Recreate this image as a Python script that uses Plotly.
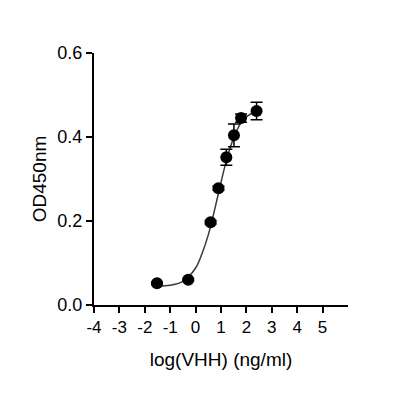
import plotly.graph_objects as go

# Measured points
log_conc = [-1.52, -0.29, 0.59, 0.90, 1.21, 1.51, 1.79, 2.40]
od450 = [0.052, 0.060, 0.197, 0.278, 0.352, 0.404, 0.445, 0.462]
od_err = [0.003, 0.003, 0.004, 0.005, 0.019, 0.027, 0.010, 0.021]

# Fitted curve
fit_x = [-1.5, -1.0, -0.5, 0.0, 0.25, 0.5, 0.75, 1.0, 1.25, 1.5, 1.75, 2.0, 2.4]
fit_y = [0.045, 0.047, 0.056, 0.088, 0.122, 0.167, 0.227, 0.292, 0.352, 0.398, 0.430, 0.448, 0.462]

x_ticks = [-4, -3, -2, -1, 0, 1, 2, 3, 4, 5]
x_tick_labels = ["-4", "-3", "-2", "-1", "0", "1", "2", "3", "4", "5"]
y_ticks = [0.0, 0.2, 0.4, 0.6]
y_tick_labels = ["0.0", "0.2", "0.4", "0.6"]

font_family = "Arial, Liberation Sans, sans-serif"

fig = go.Figure()
fig.add_trace(go.Scatter(
    x=fit_x, y=fit_y, mode="lines", line=dict(color="#3a3a3a", width=1.5, shape="spline"),
    showlegend=False, hoverinfo="skip"))
fig.add_trace(go.Scatter(
    x=log_conc, y=od450, mode="markers",
    marker=dict(color="black", size=12),
    error_y=dict(type="data", array=od_err, color="black", thickness=1.5, width=6),
    showlegend=False))

fig.update_layout(
    width=400, height=400,
    margin=dict(l=86, r=60, t=45, b=103),
    paper_bgcolor="white", plot_bgcolor="white",
    font=dict(family=font_family, color="black", size=17),
    xaxis=dict(range=[-4, 6], tickvals=x_ticks, ticktext=x_tick_labels,
               showgrid=False, zeroline=False, showline=True, linecolor="black", linewidth=2,
               ticks="outside", ticklen=6, tickwidth=1.5, tickcolor="black",
               tickfont=dict(size=17),
               title=dict(text="log(VHH) (ng/ml)", font=dict(size=19), standoff=16)),
    yaxis=dict(range=[0, 0.6], tickvals=y_ticks, ticktext=y_tick_labels,
               showgrid=False, zeroline=False, showline=True, linecolor="black", linewidth=2,
               ticks="outside", ticklen=6, tickwidth=1.5, tickcolor="black",
               tickfont=dict(size=18),
               title=dict(text="OD450nm", font=dict(size=19), standoff=6)),
)

fig.write_html("out.html")
